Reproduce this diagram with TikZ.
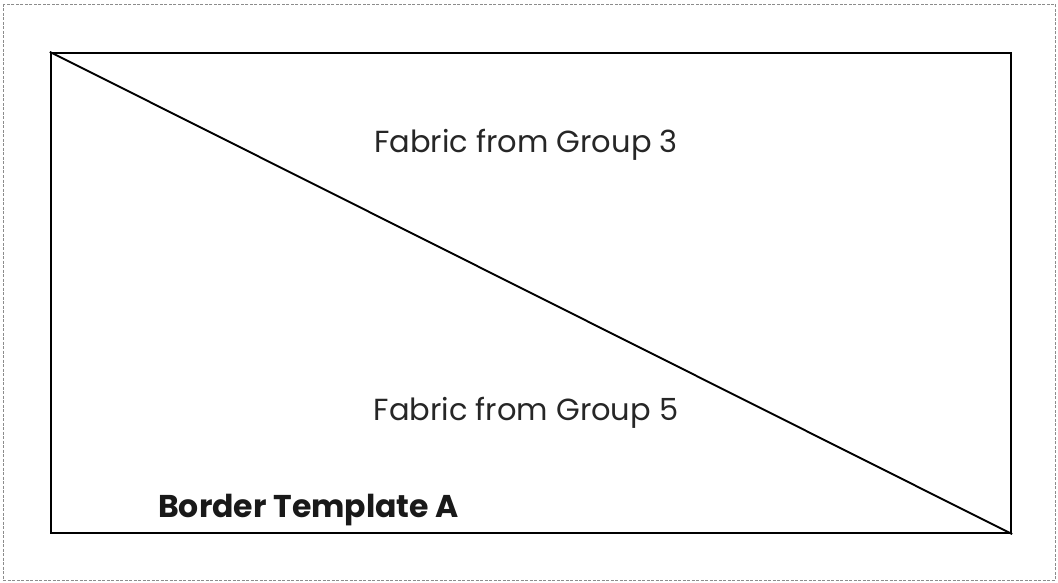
\documentclass[tikz,border=0pt]{standalone}
\usepackage{fontspec}
\setmainfont{Poppins}
\begin{document}
\begin{tikzpicture}[x=1pt, y=-1pt, frame/.style = {draw, line width=2.2pt, minimum width=960pt, minimum height=480pt, inner sep=0pt}, fabric/.style = {font=\fontsize{30.5}{34}\selectfont, text=black!85, anchor=base, inner sep=0pt}, title/.style = {font=\fontsize{31.5}{35}\selectfont\bfseries, text=black!90, anchor=base west, inner sep=0pt}]
\useasboundingbox (0,0) rectangle (1058,583);
\draw[black!45, dash pattern=on 3pt off 1.5pt, line width=0.8pt] (3,4) rectangle (1055,580);
\node[frame] (tpl) at (531,293) {};
\draw[line width=1.9pt] (tpl.north west) -- (tpl.south east);
\node[fabric] (g3) at (526,153) {Fabric from Group 3};
\node[fabric] (g5) at (526,420) {Fabric from Group 5};
\node[title] (name) at (158,517) {Border Template A};
\end{tikzpicture}
\end{document}
